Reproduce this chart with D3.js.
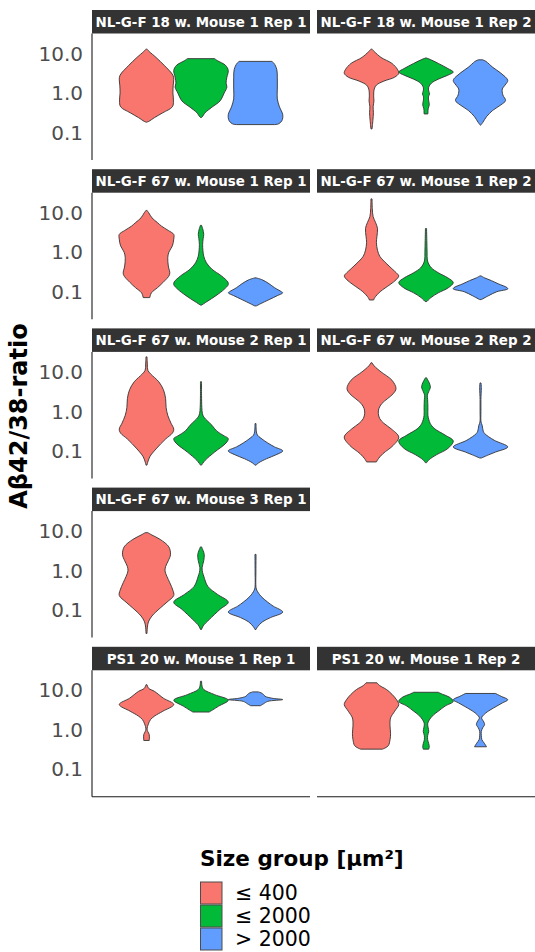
<!DOCTYPE html>
<html><head><meta charset="utf-8">
<script src="https://cdn.jsdelivr.net/npm/d3@7"></script>
<style>body{margin:0;background:#fff}svg{display:block}</style>
</head><body>
<script>
// ---------- data ----------
const groups = ["≤ 400", "≤ 2000", "> 2000"];
const groupColors = ["#F8766D", "#00BA38", "#619CFF"];
const panelTitles = [
  "NL-G-F 18 w. Mouse 1 Rep 1", "NL-G-F 18 w. Mouse 1 Rep 2",
  "NL-G-F 67 w. Mouse 1 Rep 1", "NL-G-F 67 w. Mouse 1 Rep 2",
  "NL-G-F 67 w. Mouse 2 Rep 1", "NL-G-F 67 w. Mouse 2 Rep 2",
  "NL-G-F 67 w. Mouse 3 Rep 1",
  "PS1 20 w. Mouse 1 Rep 1", "PS1 20 w. Mouse 1 Rep 2"
];
const yTickValues = [0.1, 1, 10];
const yTickLabels = ["0.1", "1.0", "10.0"];
const yLimits = [0.0201, 32.1];
const yTitle = "Aβ42/38-ratio";
const legendTitle = "Size group [µm²]";

// violin outlines per panel: for each size group, [log10(ratio), relative half-width]
const vio_18w_M1R1 = [
  [[1.12,0],[1.05,0.1],[0.9,0.35],[0.7,0.65],[0.45,0.97],[0.35,1.0],[0.2,0.98],[0.0,0.97],[-0.2,0.99],[-0.35,0.95],[-0.5,0.6],[-0.62,0.3],[-0.72,0.08],[-0.74,0]],
  [[0.87,0.5],[0.82,0.6],[0.7,0.9],[0.57,1.0],[0.4,0.95],[0.25,0.92],[0.15,0.95],[0.0,0.85],[-0.2,0.7],[-0.36,0.4],[-0.5,0.15],[-0.6,0.05],[-0.62,0.02]],
  [[0.80,0.6],[0.75,0.68],[0.6,0.78],[0.4,0.8],[0.1,0.8],[-0.15,0.8],[-0.35,0.88],[-0.55,1.0],[-0.7,0.97],[-0.78,0.85],[-0.8,0.7]]
];
const vio_18w_M1R2 = [
  [[1.12,0],[1.05,0.1],[0.9,0.35],[0.75,0.75],[0.6,0.95],[0.5,1.0],[0.4,0.85],[0.3,0.45],[0.2,0.18],[0.1,0.1],[-0.1,0.08],[-0.2,0.09],[-0.35,0.06],[-0.5,0.07],[-0.7,0.05],[-0.91,0.02]],
  [[0.89,0],[0.85,0.15],[0.75,0.45],[0.62,0.8],[0.53,1.0],[0.45,0.8],[0.35,0.45],[0.25,0.2],[0.15,0.1],[0.05,0.1],[-0.02,0.13],[-0.1,0.09],[-0.2,0.1],[-0.3,0.12],[-0.4,0.08],[-0.53,0.07]],
  [[0.84,0.08],[0.8,0.2],[0.65,0.45],[0.5,0.75],[0.32,1.0],[0.2,0.9],[0.1,0.8],[-0.05,0.82],[-0.19,0.92],[-0.3,0.75],[-0.44,0.45],[-0.6,0.22],[-0.75,0.08],[-0.82,0]]
];
const vio_67w_M1R1 = [
  [[1.07,0],[1.0,0.08],[0.87,0.2],[0.75,0.4],[0.66,0.55],[0.55,0.8],[0.45,1.0],[0.33,1.0],[0.16,0.95],[0.0,0.82],[-0.14,0.78],[-0.35,0.8],[-0.56,0.85],[-0.77,0.6],[-0.9,0.4],[-1.03,0.18],[-1.15,0.12]],
  [[0.68,0.02],[0.6,0.06],[0.45,0.1],[0.35,0.08],[0.2,0.06],[0.05,0.07],[-0.1,0.1],[-0.27,0.2],[-0.43,0.4],[-0.6,0.75],[-0.75,0.98],[-0.82,1.0],[-0.94,0.85],[-1.1,0.55],[-1.25,0.22],[-1.34,0.02]],
  [[-0.65,0.02],[-0.7,0.25],[-0.8,0.5],[-0.9,0.7],[-1.0,0.95],[-1.03,1.0],[-1.1,0.8],[-1.2,0.5],[-1.3,0.2],[-1.36,0.03]]
];
const vio_67w_M1R2 = [
  [[1.35,0.02],[1.1,0.03],[0.9,0.06],[0.75,0.15],[0.6,0.22],[0.4,0.2],[0.25,0.18],[0.05,0.22],[-0.1,0.3],[-0.2,0.42],[-0.4,0.72],[-0.55,0.95],[-0.6,1.0],[-0.7,0.9],[-0.82,0.68],[-1.0,0.32],[-1.15,0.12],[-1.21,0.08]],
  [[0.6,0.02],[0.3,0.03],[0.0,0.04],[-0.2,0.05],[-0.3,0.1],[-0.4,0.2],[-0.52,0.45],[-0.65,0.8],[-0.77,1.0],[-0.9,0.82],[-1.03,0.45],[-1.15,0.18],[-1.25,0.03]],
  [[-0.6,0.02],[-0.65,0.15],[-0.72,0.4],[-0.8,0.65],[-0.9,0.98],[-0.93,1.0],[-1.0,0.6],[-1.1,0.3],[-1.2,0.03]]
];
const vio_67w_M2R1 = [
  [[1.38,0.02],[1.2,0.03],[1.04,0.05],[0.95,0.15],[0.75,0.45],[0.55,0.62],[0.33,0.7],[0.1,0.72],[-0.1,0.78],[-0.3,0.9],[-0.45,1.0],[-0.55,0.95],[-0.7,0.7],[-0.95,0.35],[-1.15,0.12],[-1.3,0.04],[-1.36,0.02]],
  [[0.75,0.02],[0.4,0.02],[0.1,0.03],[-0.05,0.05],[-0.14,0.1],[-0.25,0.25],[-0.35,0.4],[-0.5,0.58],[-0.62,0.85],[-0.69,1.0],[-0.8,0.92],[-1.03,0.5],[-1.24,0.15],[-1.36,0.02]],
  [[-0.31,0.02],[-0.5,0.03],[-0.6,0.07],[-0.68,0.2],[-0.8,0.45],[-0.9,0.7],[-1.0,1.0],[-1.1,0.75],[-1.2,0.4],[-1.3,0.12],[-1.36,0.02]]
];
const vio_67w_M2R2 = [
  [[1.23,0.02],[1.15,0.1],[1.0,0.35],[0.79,0.75],[0.58,0.9],[0.45,0.8],[0.33,0.6],[0.2,0.38],[0.07,0.27],[-0.05,0.25],[-0.18,0.3],[-0.3,0.45],[-0.44,0.72],[-0.65,1.0],[-0.86,0.8],[-1.07,0.42],[-1.2,0.25],[-1.28,0.18]],
  [[0.85,0.02],[0.75,0.1],[0.62,0.16],[0.5,0.1],[0.41,0.05],[0.3,0.06],[0.1,0.07],[-0.1,0.07],[-0.2,0.1],[-0.3,0.15],[-0.43,0.3],[-0.6,0.7],[-0.75,1.0],[-0.94,0.8],[-1.1,0.38],[-1.22,0.12],[-1.3,0.02]],
  [[0.72,0.02],[0.6,0.03],[0.3,0.015],[0.0,0.015],[-0.27,0.02],[-0.35,0.06],[-0.5,0.1],[-0.56,0.15],[-0.73,0.5],[-0.9,1.0],[-1.03,0.55],[-1.1,0.3],[-1.18,0.03]]
];
const vio_67w_M3R1 = [
  [[0.96,0.05],[0.9,0.2],[0.79,0.5],[0.6,0.82],[0.4,0.88],[0.25,0.8],[0.1,0.7],[-0.01,0.68],[-0.15,0.75],[-0.3,0.85],[-0.5,0.97],[-0.63,1.0],[-0.8,0.75],[-0.95,0.5],[-1.15,0.2],[-1.3,0.07],[-1.45,0.03],[-1.59,0.02]],
  [[0.6,0.02],[0.5,0.08],[0.4,0.12],[0.25,0.1],[0.07,0.04],[-0.05,0.06],[-0.14,0.1],[-0.4,0.25],[-0.6,0.6],[-0.8,1.0],[-0.98,0.7],[-1.24,0.3],[-1.4,0.08],[-1.49,0.02]],
  [[0.41,0.02],[0.0,0.015],[-0.43,0.02],[-0.5,0.05],[-0.65,0.2],[-0.8,0.45],[-0.9,0.65],[-1.05,1.0],[-1.19,0.55],[-1.3,0.25],[-1.42,0.08],[-1.49,0.02]]
];
const vio_PS1_M1R1 = [
  [[1.14,0.02],[1.05,0.08],[0.97,0.3],[0.8,0.62],[0.64,1.0],[0.47,0.6],[0.35,0.3],[0.26,0.15],[0.15,0.07],[0.02,0.02],[-0.05,0.05],[-0.12,0.1],[-0.27,0.1]],
  [[1.23,0.02],[1.1,0.04],[1.02,0.1],[0.89,0.5],[0.75,1.0],[0.6,0.65],[0.5,0.42],[0.45,0.3]],
  [[0.96,0.1],[0.92,0.25],[0.85,0.35],[0.8,0.6],[0.765,1.0],[0.72,0.45],[0.66,0.3],[0.61,0.18]]
];
const vio_PS1_M1R2 = [
  [[1.19,0.2],[1.12,0.3],[1.02,0.55],[0.9,0.75],[0.76,0.92],[0.64,1.0],[0.47,0.85],[0.3,0.7],[0.1,0.68],[-0.1,0.7],[-0.25,0.68],[-0.4,0.62],[-0.46,0.5],[-0.49,0.4]],
  [[0.95,0.45],[0.9,0.6],[0.83,0.85],[0.72,1.0],[0.6,0.7],[0.47,0.45],[0.38,0.28],[0.25,0.12],[0.15,0.06],[0.05,0.08],[-0.04,0.1],[-0.15,0.06],[-0.25,0.06],[-0.35,0.1],[-0.43,0.12],[-0.49,0.1]],
  [[0.92,0.55],[0.85,0.75],[0.76,1.0],[0.68,0.8],[0.6,0.6],[0.5,0.35],[0.43,0.2],[0.35,0.08],[0.3,0.04],[0.2,0.12],[0.13,0.15],[0.05,0.08],[-0.04,0.03],[-0.15,0.03],[-0.25,0.05],[-0.35,0.15],[-0.43,0.22]]
];
const panelViolins = [vio_18w_M1R1, vio_18w_M1R2, vio_67w_M1R1, vio_67w_M1R2,
  vio_67w_M2R1, vio_67w_M2R2, vio_67w_M3R1, vio_PS1_M1R1, vio_PS1_M1R2];

// ---------- layout ----------
const W = 535, H = 952;
const FONT = "'DejaVu Sans', Verdana, sans-serif";
const colX = [92, 317], panelW = 218;
const stripTop0 = 10, rowPitch = 159.2, stripH = 23.5, panelH = 126.5;
const panelRC = [[0,0],[0,1],[1,0],[1,1],[2,0],[2,1],[3,0],[4,0],[4,1]];
const lastRow = 4;

const svg = d3.select("body").append("svg").attr("width", W).attr("height", H)
  .style("font-family", FONT);

const x = d3.scalePoint().domain(groups).range([0, panelW]).padding(1);
const halfMax = x.step() / 2;
const y = d3.scaleLog().domain(yLimits).range([panelH, 0]);
const toRatio = l => Math.pow(10, l);

panelTitles.forEach((title, i) => {
  const [r, c] = panelRC[i];
  const sx = colX[c], sy = stripTop0 + r * rowPitch;
  const g = svg.append("g").attr("transform", `translate(${sx},${sy})`);
  // strip
  g.append("rect").attr("width", panelW).attr("height", stripH).attr("fill", "#333333");
  g.append("text").attr("x", panelW / 2).attr("y", stripH / 2 + 0.5)
    .attr("text-anchor", "middle").attr("dominant-baseline", "central")
    .attr("fill", "#ffffff").attr("font-weight", "bold").attr("font-size", "13.4px")
    .text(title);
  const p = g.append("g").attr("transform", `translate(0,${stripH})`);
  // violins
  panelViolins[i].forEach((pts, gi) => {
    const cx = x(groups[gi]);
    const area = d3.area()
      .curve(d3.curveCatmullRom.alpha(0.5))
      .y(d => y(toRatio(d[0])))
      .x0(d => cx - d[1] * halfMax)
      .x1(d => cx + d[1] * halfMax);
    p.append("path").attr("d", area(pts))
      .attr("fill", groupColors[gi]).attr("stroke", "#333333")
      .attr("stroke-width", 0.9).attr("stroke-linejoin", "round");
  });
  // y axis (left column only)
  if (c === 0) {
    p.append("line").attr("x1", 0).attr("x2", 0).attr("y1", 0).attr("y2", panelH)
      .attr("stroke", "#1a1a1a").attr("stroke-width", 1.1);
    yTickValues.forEach((v, k) => {
      p.append("text").attr("x", -9).attr("y", y(v)).attr("dy", "0.36em")
        .attr("text-anchor", "end").attr("fill", "#4d4d4d").attr("font-size", "20px")
        .text(yTickLabels[k]);
    });
  }
  if (r === lastRow) {
    p.append("line").attr("x1", 0).attr("x2", panelW).attr("y1", panelH).attr("y2", panelH)
      .attr("stroke", "#1a1a1a").attr("stroke-width", 1.1);
  }
});

// y axis title
svg.append("text").attr("transform", "translate(27,416) rotate(-90)")
  .attr("text-anchor", "middle").attr("font-weight", "bold").attr("font-size", "24px")
  .attr("fill", "#000").text(yTitle);

// legend
const lg = svg.append("g").attr("transform", "translate(200,0)");
lg.append("text").attr("x", 0).attr("y", 866).attr("font-weight", "bold")
  .attr("font-size", "21.5px").attr("fill", "#000").text(legendTitle);
groups.forEach((gname, k) => {
  const ky = 882 + k * 23;
  lg.append("rect").attr("x", 0.5).attr("y", ky).attr("width", 21.5).attr("height", 22)
    .attr("fill", groupColors[k]).attr("stroke", "#4d4d4d").attr("stroke-width", 1);
  lg.append("text").attr("x", 35).attr("y", ky + 11).attr("dy", "0.36em")
    .attr("font-size", "20.5px").attr("fill", "#000").text(gname);
});
</script>
</body></html>
